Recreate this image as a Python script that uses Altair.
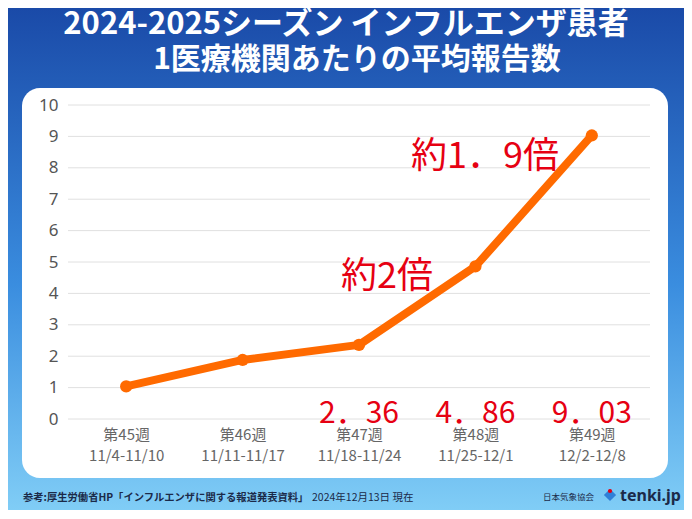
import altair as alt
import pandas as pd

# ---- data ----
weeks = ["第45週", "第46週", "第47週", "第48週", "第49週"]
ranges = ["11/4-11/10", "11/11-11/17", "11/18-11/24", "11/25-12/1", "12/2-12/8"]
values = [1.04, 1.88, 2.36, 4.86, 9.03]
value_labels = ["", "", "2．36", "4．86", "9．03"]
y_ticks = list(range(0, 11))
title_1 = "2024-2025シーズン インフルエンザ患者"
title_2 = "1医療機関あたりの平均報告数"
annot_1 = "約2倍"
annot_2 = "約1．9倍"
source_text = "参考:厚生労働省HP「インフルエンザに関する報道発表資料」"
date_text = "2024年12月13日 現在"
org_text = "日本気象協会"
brand_text = "tenki.jp"

W, H = 582, 314
PAD = {"left": 60, "top": 97, "right": 34, "bottom": 91}
FONT = "Noto Sans CJK JP"
RED = "#e60012"
ORANGE = "#ff6a00"
NAVY = "#1b2a49"

keys = [w + "|" + r for w, r in zip(weeks, ranges)]
df = pd.DataFrame({"key": keys, "value": values, "vlabel": value_labels})
grid_df = pd.DataFrame({"value": y_ticks})
one = pd.DataFrame({"a": [0]})

x_enc = alt.X(
    "key:N", sort=keys, scale=alt.Scale(padding=0.5),
    axis=alt.Axis(title=None, labelExpr="split(datum.label, '|')", labelAngle=0,
                  labelFontSize=15, labelColor="#666666", labelLineHeight=21,
                  labelPadding=8, domain=False, ticks=False, zindex=1, labelFont=FONT),
)
y_axis = alt.Axis(title=None, values=y_ticks, grid=False, domain=False, ticks=False,
                  labelFontSize=17, labelColor="#555555", labelPadding=10, zindex=1,
                  labelFont="Noto Sans")
y_scale = alt.Scale(domain=[0, 10], nice=False)

bg = alt.Chart(one).mark_rect(
    fill=alt.Gradient(gradient="linear",
                      stops=[alt.GradientStop(color="#1a4aa8", offset=0),
                             alt.GradientStop(color="#3a8ddf", offset=0.55),
                             alt.GradientStop(color="#80cdf6", offset=1)],
                      x1=0, x2=0, y1=0, y2=1)
).encode(x=alt.value(-PAD["left"]), x2=alt.value(W + PAD["right"]),
         y=alt.value(-PAD["top"]), y2=alt.value(H + PAD["bottom"]))

panel = alt.Chart(one).mark_rect(fill="white", cornerRadius=18).encode(
    x=alt.value(-46), x2=alt.value(600), y=alt.value(-17), y2=alt.value(373))

grid = alt.Chart(grid_df).mark_rule(color="#e0e0e0", strokeWidth=1).encode(
    y=alt.Y("value:Q", scale=y_scale, axis=y_axis),
    x=alt.value(0), x2=alt.value(W))

line = alt.Chart(df).mark_line(
    color=ORANGE, strokeWidth=8, strokeCap="round", strokeJoin="round",
    point=alt.OverlayMarkDef(filled=True, size=150, color=ORANGE, opacity=1),
).encode(x=x_enc, y=alt.Y("value:Q", scale=y_scale, axis=y_axis))

vlabels = alt.Chart(df).mark_text(color=RED, fontSize=30, font=FONT, baseline="middle").encode(
    x=x_enc, y=alt.value(309), text="vlabel:N")


def txt(text, x, y, size, color, weight="normal", align="center", font=FONT):
    return alt.Chart(one).mark_text(
        text=text, fontSize=size, color=color, fontWeight=weight, align=align,
        baseline="middle", font=font,
    ).encode(x=alt.value(x), y=alt.value(y))


icon_outer = alt.Chart(one).mark_point(shape="diamond", filled=True, size=150,
                                       color="#2f7fd8", opacity=1).encode(
    x=alt.value(542), y=alt.value(390))
icon_inner = alt.Chart(one).mark_point(shape="circle", filled=True, size=18,
                                       color="#e60012", opacity=1).encode(
    x=alt.value(542), y=alt.value(386))

layers = [
    bg, panel, grid, line, vlabels,
    txt(annot_1, 319, 172, 36, RED),
    txt(annot_2, 417, 52, 36, RED),
    txt(title_1, 278, -80, 31, "white", "bold"),
    txt(title_2, 289, -45, 30, "white", "bold"),
    txt(source_text, -45, 393, 10.3, NAVY, "bold", "left"),
    txt(date_text, 244, 393, 10.5, NAVY, "normal", "left"),
    txt(org_text, 475, 392, 8.5, NAVY, "normal", "left"),
    icon_outer, icon_inner,
    txt(brand_text, 552, 391, 16, NAVY, "bold", "left", "Noto Sans"),
]

chart = alt.layer(*layers).properties(
    width=W, height=H, padding=PAD,
    autosize=alt.AutoSizeParams(type="none"),
).configure_view(stroke=None).configure(background="#3a8ddf")

chart.save("out.html", embed_options={"renderer": "svg", "actions": False})
